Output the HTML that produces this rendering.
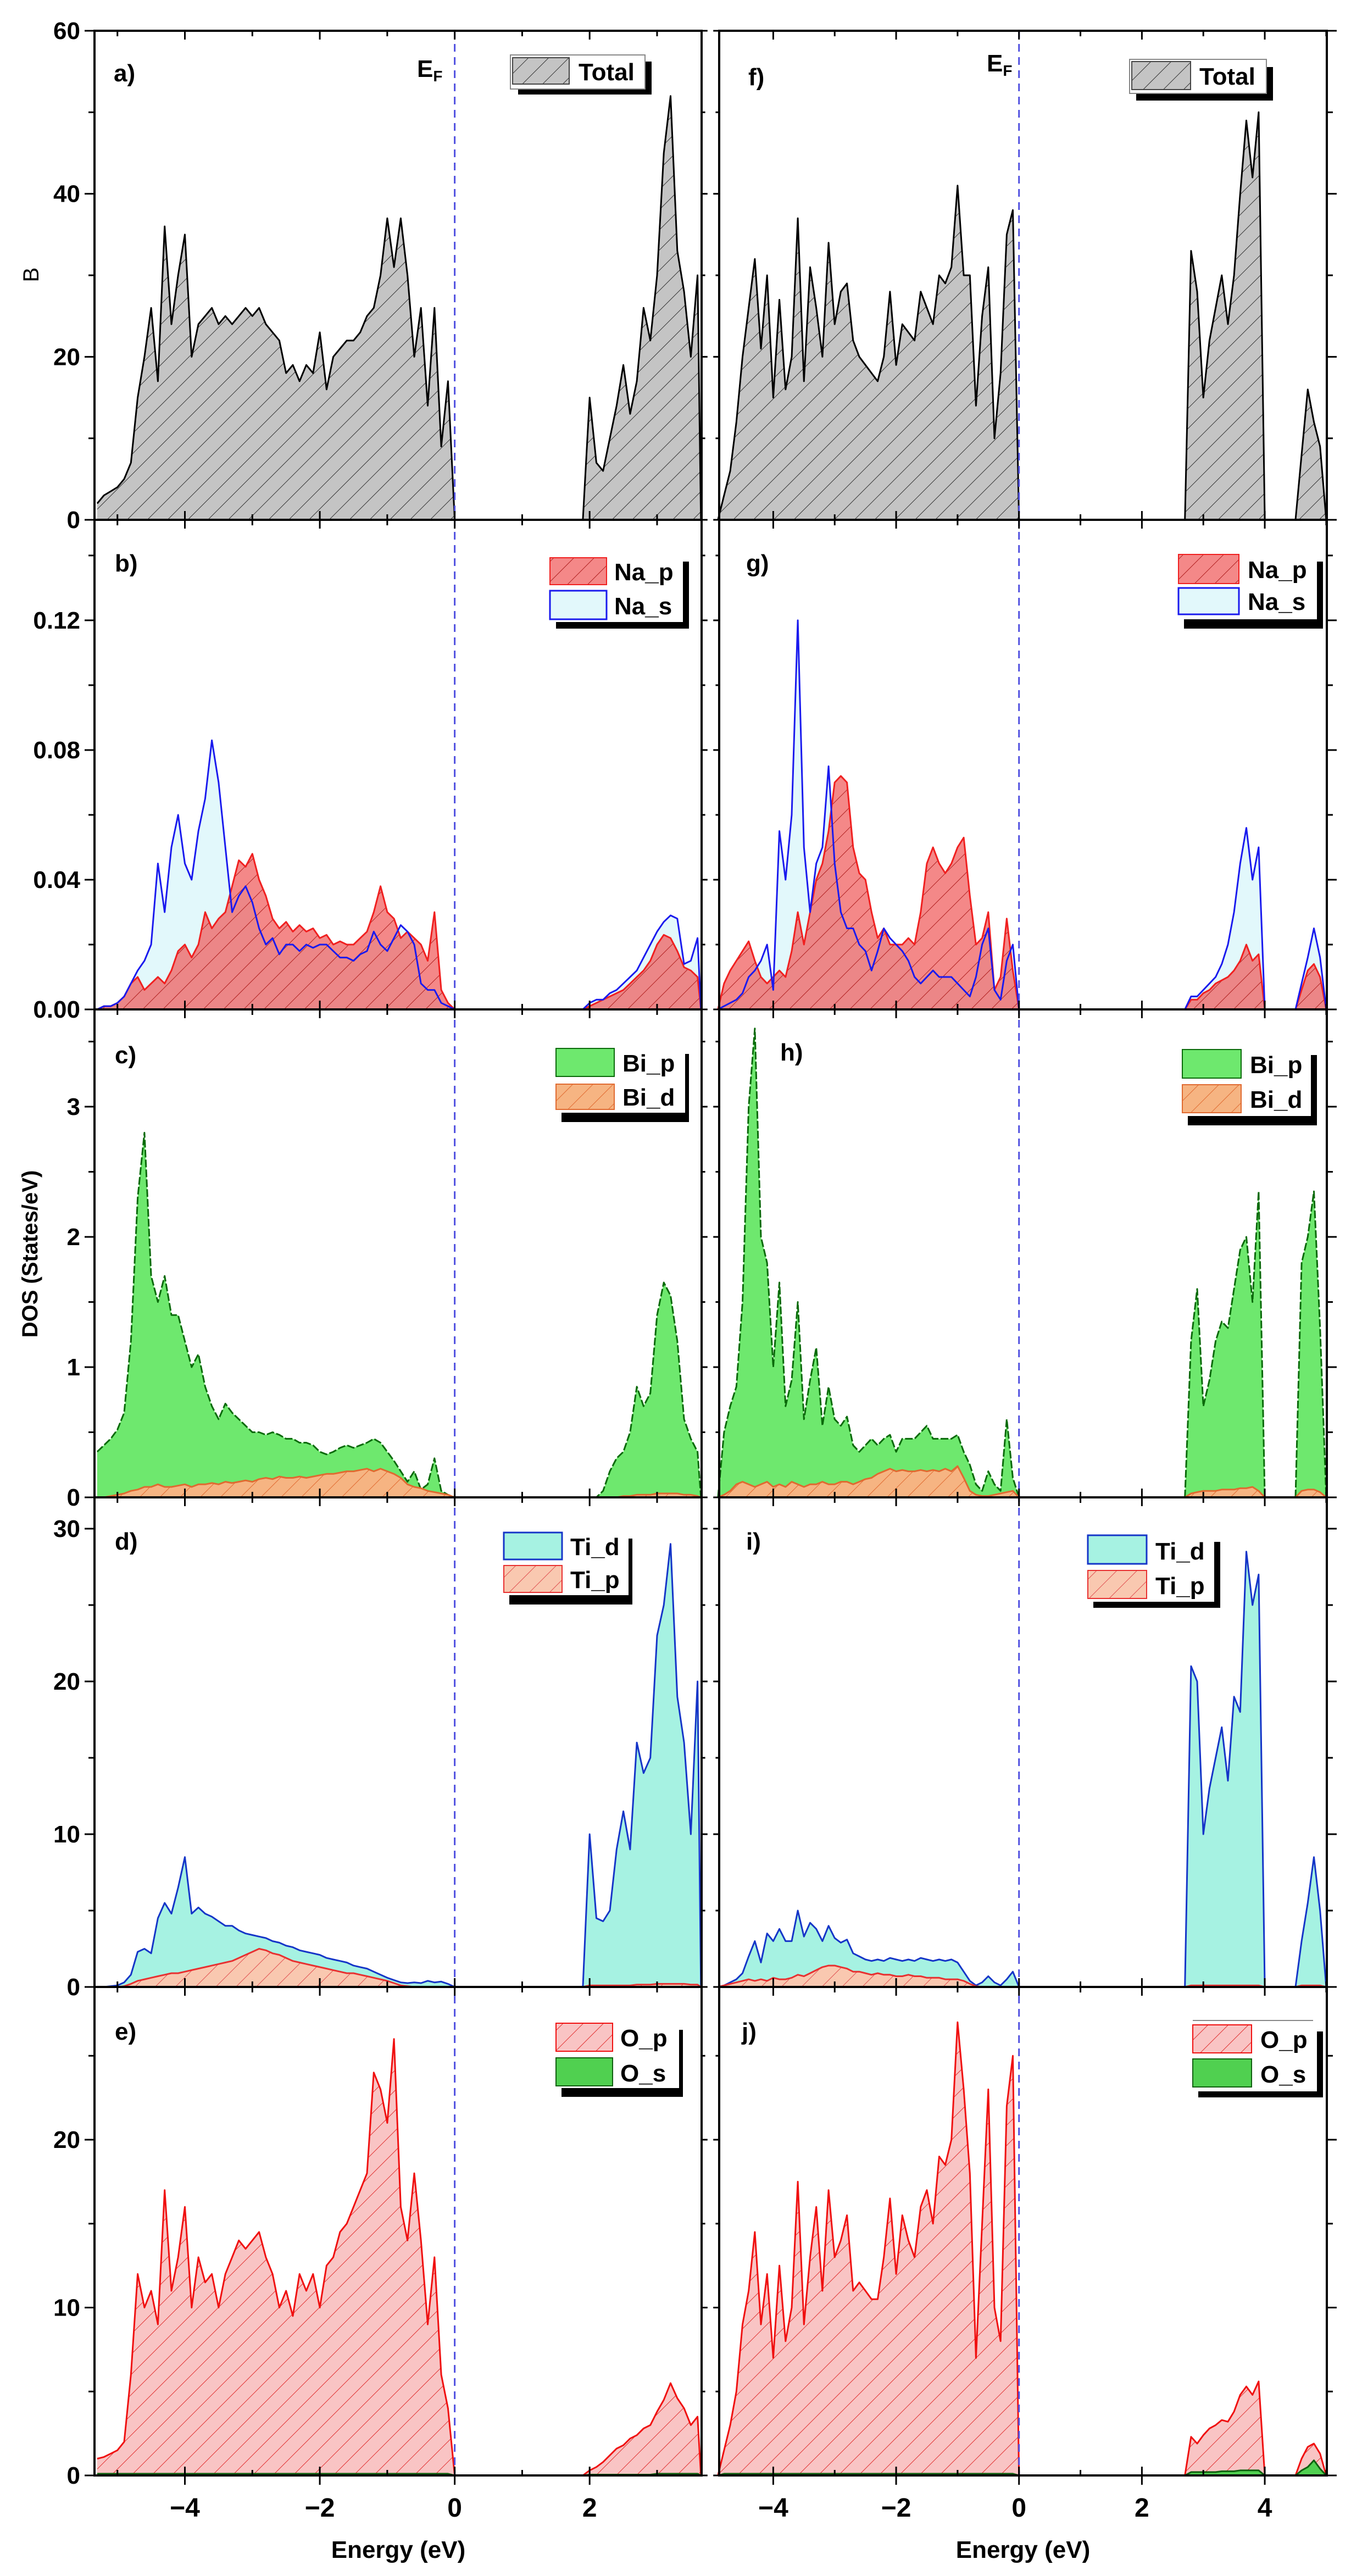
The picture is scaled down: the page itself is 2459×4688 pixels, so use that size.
<!DOCTYPE html>
<html><head><meta charset="utf-8"><title>DOS panels</title>
<style>
html,body{margin:0;padding:0;background:#fff;}
svg{display:block;font-family:"Liberation Sans",Arial,sans-serif;font-weight:bold;}
</style></head>
<body>
<svg id="chart" width="2459" height="4688" viewBox="0 0 2459 4688" xmlns="http://www.w3.org/2000/svg">
<defs>
<pattern id="hBlack" patternUnits="userSpaceOnUse" width="26" height="26" patternTransform="rotate(45)"><rect width="26" height="26" fill="#c4c4c4"/><line x1="0" y1="0" x2="0" y2="26" stroke="#333" stroke-width="2"/></pattern>
<pattern id="hRed" patternUnits="userSpaceOnUse" width="26" height="26" patternTransform="rotate(45)"><rect width="26" height="26" fill="rgba(240,90,90,0.72)"/><line x1="0" y1="0" x2="0" y2="26" stroke="#b02020" stroke-width="2"/></pattern>
<pattern id="hPink" patternUnits="userSpaceOnUse" width="26" height="26" patternTransform="rotate(45)"><rect width="26" height="26" fill="#f9c4c4"/><line x1="0" y1="0" x2="0" y2="26" stroke="#e03030" stroke-width="2"/></pattern>
<pattern id="hOrange" patternUnits="userSpaceOnUse" width="26" height="26" patternTransform="rotate(45)"><rect width="26" height="26" fill="#f6b482"/><line x1="0" y1="0" x2="0" y2="26" stroke="#e06a30" stroke-width="2"/></pattern>
<pattern id="hSalmon" patternUnits="userSpaceOnUse" width="26" height="26" patternTransform="rotate(45)"><rect width="26" height="26" fill="#f9c8b0"/><line x1="0" y1="0" x2="0" y2="26" stroke="#e05050" stroke-width="2"/></pattern>
</defs>
<g id="layer"></g>
</svg>
<script>
// ---- energy grids (eV) ----
const LV=[-5.3,-5.2,-5.1,-5.0,-4.9,-4.8,-4.7,-4.6,-4.5,-4.4,-4.3,-4.2,-4.1,-4.0,-3.9,-3.8,-3.7,-3.6,-3.5,-3.4,-3.3,-3.2,-3.1,-3.0,-2.9,-2.8,-2.7,-2.6,-2.5,-2.4,-2.3,-2.2,-2.1,-2.0,-1.9,-1.8,-1.7,-1.6,-1.5,-1.4,-1.3,-1.2,-1.1,-1.0,-0.9,-0.8,-0.7,-0.6,-0.5,-0.4,-0.3,-0.2,-0.1,0.0];
const LC=[1.9,2.0,2.1,2.2,2.3,2.4,2.5,2.6,2.7,2.8,2.9,3.0,3.1,3.2,3.3,3.4,3.5,3.6,3.65];
const RV=[-4.9,-4.8,-4.7,-4.6,-4.5,-4.4,-4.3,-4.2,-4.1,-4.0,-3.9,-3.8,-3.7,-3.6,-3.5,-3.4,-3.3,-3.2,-3.1,-3.0,-2.9,-2.8,-2.7,-2.6,-2.5,-2.4,-2.3,-2.2,-2.1,-2.0,-1.9,-1.8,-1.7,-1.6,-1.5,-1.4,-1.3,-1.2,-1.1,-1.0,-0.9,-0.8,-0.7,-0.6,-0.5,-0.4,-0.3,-0.2,-0.1,0.0];
const RC1=[2.7,2.8,2.9,3.0,3.1,3.2,3.3,3.4,3.5,3.6,3.7,3.8,3.9,4.0];
const RC2=[4.5,4.6,4.7,4.8,4.9,5.0];

// ---- a) Total (left) ----
const totalL_V=[2,3,3.5,4,5,7,15,20,26,17,36,24,30,35,20,24,25,26,24,25,24,25,26,25,26,24,23,22,18,19,17,19,18,23,16,20,21,22,22,23,25,26,30,37,31,37,30,20,26,14,26,9,17,0];
const totalL_C=[0,15,7,6,10,14,19,13,17,26,22,30,45,52,33,28,20,30,0];
// ---- f) Total (right) ----
const totalR_V=[0,3,6,12,20,26,32,21,30,15,27,16,20,37,17,31,26,20,34,24,28,29,22,20,19,18,17,20,28,19,24,23,22,28,26,24,30,29,31,41,30,30,14,25,31,10,18,35,38,0];
const totalR_C1=[0,33,28,15,22,26,30,24,30,40,49,42,50,0];
const totalR_C2=[0,8,16,12,9,0];

// ---- b) Na ----
const naSL_V=[0,0.001,0.001,0.002,0.004,0.008,0.012,0.015,0.02,0.045,0.03,0.05,0.06,0.045,0.04,0.055,0.065,0.083,0.07,0.05,0.03,0.035,0.038,0.033,0.025,0.02,0.022,0.017,0.02,0.02,0.018,0.02,0.019,0.02,0.02,0.018,0.016,0.016,0.015,0.017,0.018,0.024,0.02,0.018,0.022,0.026,0.024,0.02,0.008,0.006,0.006,0.002,0.001,0];
const naSL_C=[0,0.002,0.003,0.003,0.005,0.006,0.008,0.01,0.012,0.016,0.02,0.024,0.027,0.029,0.028,0.014,0.015,0.022,0];
const naPL_V=[0,0.001,0.001,0.002,0.004,0.008,0.01,0.006,0.008,0.01,0.008,0.012,0.018,0.02,0.016,0.02,0.03,0.025,0.028,0.03,0.038,0.046,0.044,0.048,0.04,0.035,0.028,0.025,0.027,0.024,0.026,0.024,0.025,0.022,0.023,0.02,0.021,0.02,0.02,0.022,0.024,0.03,0.038,0.03,0.028,0.022,0.024,0.022,0.02,0.015,0.03,0.006,0.002,0];
const naPL_C=[0,0.001,0.002,0.003,0.004,0.005,0.006,0.008,0.01,0.012,0.015,0.02,0.023,0.022,0.018,0.013,0.012,0.01,0];
// ---- g) Na ----
const naSR_V=[0,0.001,0.002,0.003,0.005,0.01,0.012,0.015,0.02,0.006,0.055,0.04,0.06,0.12,0.05,0.03,0.045,0.05,0.075,0.045,0.03,0.025,0.025,0.02,0.018,0.012,0.018,0.025,0.022,0.02,0.018,0.015,0.01,0.008,0.01,0.012,0.01,0.01,0.01,0.008,0.006,0.004,0.01,0.02,0.025,0.006,0.003,0.015,0.02,0];
const naSR_C1=[0,0.004,0.004,0.006,0.008,0.01,0.014,0.02,0.03,0.045,0.056,0.04,0.05,0];
const naSR_C2=[0,0.008,0.016,0.025,0.016,0];
const naPR_V=[0,0.008,0.012,0.015,0.018,0.021,0.015,0.01,0.008,0.01,0.012,0.01,0.018,0.03,0.02,0.03,0.04,0.045,0.055,0.07,0.072,0.07,0.05,0.042,0.04,0.03,0.022,0.025,0.02,0.02,0.02,0.022,0.02,0.03,0.045,0.05,0.045,0.042,0.045,0.05,0.053,0.035,0.02,0.022,0.03,0.006,0.01,0.028,0.012,0];
const naPR_C1=[0,0.003,0.003,0.005,0.006,0.008,0.009,0.01,0.012,0.015,0.02,0.015,0.017,0];
const naPR_C2=[0,0.006,0.012,0.014,0.01,0];

// ---- c) Bi ----
const biPL_V=[0.35,0.4,0.45,0.52,0.65,1.2,2.3,2.8,1.7,1.5,1.7,1.4,1.4,1.2,1.0,1.1,0.85,0.7,0.6,0.72,0.65,0.6,0.55,0.5,0.5,0.48,0.5,0.48,0.45,0.45,0.42,0.42,0.4,0.35,0.33,0.35,0.38,0.4,0.38,0.4,0.42,0.45,0.42,0.35,0.28,0.2,0.12,0.2,0.06,0.1,0.3,0.05,0.02,0];
const biPL_C=[0,0,0,0.05,0.2,0.3,0.35,0.5,0.85,0.7,0.8,1.4,1.65,1.55,1.2,0.6,0.45,0.35,0];
const biDL_V=[0,0,0.01,0.02,0.03,0.05,0.06,0.08,0.08,0.1,0.08,0.08,0.09,0.1,0.08,0.1,0.1,0.11,0.1,0.12,0.11,0.12,0.13,0.12,0.14,0.15,0.14,0.16,0.15,0.15,0.16,0.15,0.16,0.17,0.18,0.18,0.19,0.2,0.2,0.21,0.22,0.2,0.22,0.2,0.18,0.15,0.1,0.08,0.07,0.05,0.04,0.03,0.02,0];
const biDL_C=[0,0,0,0,0,0,0.01,0.01,0.02,0.02,0.02,0.03,0.03,0.03,0.03,0.02,0.02,0.01,0];
// ---- h) Bi ----
const biPR_V=[0,0.5,0.7,0.85,1.5,3.0,3.6,2.0,1.8,1.0,1.65,0.7,0.9,1.5,0.6,0.9,1.15,0.55,0.85,0.6,0.55,0.62,0.4,0.35,0.4,0.45,0.4,0.45,0.48,0.35,0.45,0.45,0.45,0.5,0.55,0.45,0.45,0.45,0.45,0.48,0.35,0.25,0.1,0.05,0.2,0.1,0.05,0.6,0.15,0];
const biPR_C1=[0,1.2,1.6,0.7,0.9,1.2,1.35,1.3,1.6,1.9,2.0,1.5,2.35,0];
const biPR_C2=[0,1.8,2.0,2.35,1.3,0];
const biDR_V=[0,0.02,0.05,0.1,0.12,0.1,0.08,0.1,0.12,0.08,0.1,0.08,0.12,0.1,0.08,0.1,0.1,0.12,0.1,0.1,0.12,0.12,0.1,0.12,0.14,0.15,0.18,0.2,0.22,0.2,0.21,0.2,0.2,0.21,0.2,0.21,0.2,0.22,0.2,0.24,0.15,0.05,0.02,0.01,0.01,0.02,0.03,0.04,0.05,0];
const biDR_C1=[0,0.03,0.04,0.05,0.05,0.05,0.06,0.06,0.06,0.07,0.07,0.08,0.05,0];
const biDR_C2=[0,0.05,0.06,0.06,0.04,0];

// ---- d) Ti ----
const tiDL_V=[0,0,0.05,0.1,0.3,0.8,2.3,2.5,2.2,4.5,5.5,4.8,6.5,8.5,4.8,5.2,4.8,4.6,4.3,4.0,4.0,3.7,3.5,3.4,3.3,3.2,3.0,2.9,2.7,2.6,2.4,2.3,2.2,2.1,1.9,1.8,1.7,1.6,1.4,1.3,1.2,1.0,0.8,0.6,0.45,0.3,0.25,0.3,0.25,0.4,0.3,0.35,0.2,0];
const tiDL_C=[0,10,4.5,4.3,5,9,11.5,9,16,14,15,23,25,29,19,16,10,20,0];
const tiPL_V=[0,0,0,0,0.05,0.2,0.4,0.5,0.6,0.7,0.8,0.9,0.9,1.0,1.1,1.2,1.3,1.4,1.5,1.6,1.7,1.9,2.1,2.3,2.5,2.4,2.2,2.1,1.9,1.7,1.6,1.5,1.4,1.3,1.2,1.1,1.0,0.9,0.9,0.8,0.7,0.6,0.5,0.4,0.25,0.1,0.05,0,0,0,0,0,0,0];
const tiPL_C=[0,0.1,0.1,0.1,0.1,0.1,0.1,0.1,0.15,0.15,0.15,0.2,0.2,0.2,0.2,0.2,0.15,0.15,0];
// ---- i) Ti ----
const tiDR_V=[0,0.1,0.3,0.5,0.9,2,3.0,1.6,3.5,3.0,3.8,3.0,3.0,5.0,3.3,4.2,3.8,3.0,4.0,3.2,2.9,3.1,2.2,2.0,1.8,1.7,1.8,1.7,1.9,1.8,1.7,1.8,1.7,1.9,1.8,1.7,1.8,1.7,1.8,1.6,1.0,0.4,0.1,0.3,0.7,0.3,0.1,0.5,1.0,0];
const tiDR_C1=[0,21,20,10,13,15,17,13.5,19,18,28.5,25,27,0];
const tiDR_C2=[0,3,5.5,8.5,5.0,0];
const tiPR_V=[0,0.1,0.2,0.3,0.4,0.5,0.4,0.5,0.4,0.6,0.5,0.5,0.6,0.8,0.7,0.9,1.1,1.3,1.4,1.4,1.3,1.2,1.0,1.0,0.9,0.8,0.9,0.8,0.8,0.7,0.7,0.8,0.7,0.7,0.6,0.6,0.6,0.5,0.5,0.5,0.4,0.2,0.05,0,0,0,0,0,0,0];
const tiPR_C1=[0,0.1,0.1,0.1,0.1,0.1,0.1,0.1,0.1,0.1,0.1,0.1,0.1,0];
const tiPR_C2=[0,0.1,0.1,0.1,0.1,0];

// ---- e) O ----
const oPL_V=[1.0,1.1,1.3,1.5,2.0,6,12,10,11,9,17,11,13,16,10,13,11.5,12,10,12,13,14,13.5,14,14.5,13,12,10,11,9.5,12,11,12,10,12.5,13,14.5,15,16,17,18,24,23,21,26,16,14,18,14,9,13,6,4,0];
const oPL_C=[0,0.3,0.5,0.8,1.2,1.6,1.8,2.2,2.4,2.8,3.0,3.8,4.5,5.5,4.6,4.0,3.0,3.5,0];
const oSL_V=[0.1,0.1,0.1,0.1,0.1,0.1,0.1,0.1,0.1,0.1,0.1,0.1,0.1,0.1,0.1,0.1,0.1,0.1,0.1,0.1,0.1,0.1,0.1,0.1,0.1,0.1,0.1,0.1,0.1,0.1,0.1,0.1,0.1,0.1,0.1,0.1,0.1,0.1,0.1,0.1,0.1,0.1,0.1,0.1,0.1,0.1,0.1,0.1,0.1,0.1,0.1,0.1,0.1,0];
const oSL_C=[0,0.05,0.05,0.05,0.05,0.05,0.05,0.05,0.05,0.05,0.05,0.1,0.1,0.1,0.1,0.1,0.1,0.1,0];
// ---- j) O ----
const oPR_V=[0,1.5,3,5,9,11,14.5,9,12,7,12.5,8,10,17.5,9,13,16,11,17,13,14,15.5,11,11.5,11,10.5,10.5,13,16.5,12,15.5,14,13,16,17,15,19,18.5,20,27,23,18,7,15,23,10,8,22,25,0];
const oPR_C1=[0,2.3,1.9,2.4,2.8,3.0,3.3,3.2,3.8,4.8,5.3,4.8,5.6,0];
const oPR_C2=[0,1.0,1.7,1.9,1.3,0];
const oSR_V=[0,0.1,0.1,0.1,0.1,0.1,0.1,0.1,0.1,0.1,0.1,0.1,0.1,0.1,0.1,0.1,0.1,0.1,0.1,0.1,0.1,0.1,0.1,0.1,0.1,0.1,0.1,0.1,0.1,0.1,0.1,0.1,0.1,0.1,0.1,0.1,0.1,0.1,0.1,0.1,0.1,0.1,0.1,0.1,0.1,0.1,0.1,0.1,0.1,0];
const oSR_C1=[0,0.2,0.2,0.2,0.2,0.2,0.25,0.25,0.25,0.3,0.3,0.3,0.3,0];
const oSR_C2=[0,0.3,0.5,0.9,0.4,0];

// ---- tick labels ----
const xTicksLeft=[-4,-2,0,2];
const xTicksRight=[-4,-2,0,2,4];
const yTicksA=[0,20,40,60];
const yTicksB=[0,0.04,0.08,0.12];
const yTicksC=[0,1,2,3];
const yTicksD=[0,10,20,30];
const yTicksE=[0,10,20];

// ---- geometry ----
const NS="http://www.w3.org/2000/svg";
const layer=document.getElementById('layer');
const sides={
  left:{x0:172,x1:1277,e0:-5.34,e1:3.66},
  right:{x0:1309,x1:2415,e0:-4.88,e1:5.01}
};
function xScale(side,e){const s=sides[side];return s.x0+(e-s.e0)/(s.e1-s.e0)*(s.x1-s.x0);}
const rows=[
  {top:56,bot:946,max:60},
  {top:946,bot:1837,max:0.151},
  {top:1837,bot:2725,max:3.747},
  {top:2725,bot:3616,max:32.05},
  {top:3616,bot:4505,max:29.1}
];
function yScale(r,v){const R=rows[r];return R.bot-v/R.max*(R.bot-R.top);}
function mk(tag,attrs,parent){const el=document.createElementNS(NS,tag);for(const k in attrs)el.setAttribute(k,attrs[k]);(parent||layer).appendChild(el);return el;}

function drawSeries(name,side,r,segs,fill,stroke,dash){
  const g=mk('g',{});
  
  
  for(const [E,V] of segs){
    let d='M'+xScale(side,E[0]).toFixed(1)+','+yScale(r,0).toFixed(1);
    let l='';
    for(let i=0;i<E.length;i++){
      const px=xScale(side,E[i]).toFixed(1),py=yScale(r,V[i]).toFixed(1);
      d+=' L'+px+','+py;
      l+=(i?' L':'M')+px+','+py;
    }
    d+=' L'+xScale(side,E[E.length-1]).toFixed(1)+','+yScale(r,0).toFixed(1)+' Z';
    const a=mk('path',{d:d,fill:fill,stroke:'none'},g);
    
    
    const ln=mk('path',{d:l,fill:'none',stroke:stroke,'stroke-width':3,'stroke-linejoin':'round'},g);
    if(dash)ln.setAttribute('stroke-dasharray',dash);
    
    
  }
}

drawSeries('total-dos-a','left',0,[[LV,totalL_V],[LC,totalL_C]],'url(#hBlack)','#000');
drawSeries('total-dos-f','right',0,[[RV,totalR_V],[RC1,totalR_C1],[RC2,totalR_C2]],'url(#hBlack)','#000');
drawSeries('na-s-b','left',1,[[LV,naSL_V],[LC,naSL_C]],'#e2f8fb','none');
drawSeries('na-p-b','left',1,[[LV,naPL_V],[LC,naPL_C]],'url(#hRed)','#f02020');
drawSeries('na-s-line-b','left',1,[[LV,naSL_V],[LC,naSL_C]],'none','#1a1aee');
drawSeries('na-s-g','right',1,[[RV,naSR_V],[RC1,naSR_C1],[RC2,naSR_C2]],'#e2f8fb','none');
drawSeries('na-p-g','right',1,[[RV,naPR_V],[RC1,naPR_C1],[RC2,naPR_C2]],'url(#hRed)','#f02020');
drawSeries('na-s-line-g','right',1,[[RV,naSR_V],[RC1,naSR_C1],[RC2,naSR_C2]],'none','#1a1aee');
drawSeries('bi-p-c','left',2,[[LV,biPL_V],[LC,biPL_C]],'#6ee86e','#0a6a0a','14,4');
drawSeries('bi-d-c','left',2,[[LV,biDL_V],[LC,biDL_C]],'url(#hOrange)','#e06a30');
drawSeries('bi-p-h','right',2,[[RV,biPR_V],[RC1,biPR_C1],[RC2,biPR_C2]],'#6ee86e','#0a6a0a','14,4');
drawSeries('bi-d-h','right',2,[[RV,biDR_V],[RC1,biDR_C1],[RC2,biDR_C2]],'url(#hOrange)','#e06a30');
drawSeries('ti-d-d','left',3,[[LV,tiDL_V],[LC,tiDL_C]],'#a6f2e2','#1535c8');
drawSeries('ti-p-d','left',3,[[LV,tiPL_V],[LC,tiPL_C]],'url(#hSalmon)','#e83030');
drawSeries('ti-d-i','right',3,[[RV,tiDR_V],[RC1,tiDR_C1],[RC2,tiDR_C2]],'#a6f2e2','#1535c8');
drawSeries('ti-p-i','right',3,[[RV,tiPR_V],[RC1,tiPR_C1],[RC2,tiPR_C2]],'url(#hSalmon)','#e83030');
drawSeries('o-p-e','left',4,[[LV,oPL_V],[LC,oPL_C]],'url(#hPink)','#f01010');
drawSeries('o-s-e','left',4,[[LV,oSL_V],[LC,oSL_C]],'#50d050','#106010');
drawSeries('o-p-j','right',4,[[RV,oPR_V],[RC1,oPR_C1],[RC2,oPR_C2]],'url(#hPink)','#f01010');
drawSeries('o-s-j','right',4,[[RV,oSR_V],[RC1,oSR_C1],[RC2,oSR_C2]],'#50d050','#106010');

for(const side of ['left','right']){
  const x=xScale(side,0);
  const f=mk('line',{x1:x,y1:56,x2:x,y2:4505,stroke:'#5050e0','stroke-width':3,'stroke-dasharray':'14,10'});
  
  
}

for(const side of ['left','right']){
  const s=sides[side];
  for(let r=0;r<rows.length;r++){
    const R=rows[r];
    const fr=mk('rect',{x:s.x0,y:R.top,width:s.x1-s.x0,height:R.bot-R.top,fill:'none',stroke:'#000','stroke-width':4});
    
    
    for(let e=Math.ceil(s.e0);e<=Math.floor(s.e1);e++){
      const x=xScale(side,e),len=(e%2===0)?16:10;
      mk('line',{x1:x,y1:R.top,x2:x,y2:R.top+len,stroke:'#000','stroke-width':3});
      mk('line',{x1:x,y1:R.bot,x2:x,y2:R.bot-len,stroke:'#000','stroke-width':3});
    }
  }
}
const yTickSets=[yTicksA,yTicksB,yTicksC,yTicksD,yTicksE];
for(let r=0;r<rows.length;r++){
  const ticks=yTickSets[r];
  const step=(ticks[1]-ticks[0])/2;
  for(let k=0;k*step<=rows[r].max+1e-9;k++){
    const v=k*step,y=yScale(r,v),len=(k%2===0)?18:11;
    mk('line',{x1:172-len,y1:y,x2:172,y2:y,stroke:'#000','stroke-width':3});
    mk('line',{x1:1277,y1:y,x2:1277+len*0.6,y2:y,stroke:'#000','stroke-width':3});
    mk('line',{x1:1309-len*0.6,y1:y,x2:1309,y2:y,stroke:'#000','stroke-width':3});
    mk('line',{x1:2415,y1:y,x2:2415+len,y2:y,stroke:'#000','stroke-width':3});
  }
  for(const v of ticks){
    const t=mk('text',{x:146,y:yScale(r,v)+15,'text-anchor':'end','font-size':44});
    t.textContent=(r===1)?v.toFixed(2):String(v);
    
    
  }
}
for(const [side,arr] of [['left',xTicksLeft],['right',xTicksRight]]){
  for(const v of arr){
    mk('line',{x1:xScale(side,v),y1:4505,x2:xScale(side,v),y2:4522,stroke:'#000','stroke-width':3});
    const t=mk('text',{x:xScale(side,v),y:4580,'text-anchor':'middle','font-size':48});
    t.textContent=v<0?'\u2212'+Math.abs(v):String(v);
    
    
  }
}
</script>
<svg style="position:absolute;left:0;top:0" width="2459" height="4688" xmlns="http://www.w3.org/2000/svg" font-family="Liberation Sans, Arial, sans-serif" font-weight="bold">
<text x="725" y="4655" text-anchor="middle" font-size="44">Energy (eV)</text>
<text x="1862" y="4655" text-anchor="middle" font-size="44">Energy (eV)</text>
<text transform="translate(70,500) rotate(-90)" text-anchor="middle" font-size="40" font-weight="normal">B</text>
<text transform="translate(68,2282) rotate(-90)" text-anchor="middle" font-size="40">DOS (States/eV)</text>

<g font-size="44">
<text x="207" y="148">a)</text>
<text x="209" y="1040">b)</text>
<text x="209" y="1935">c)</text>
<text x="209" y="2820">d)</text>
<text x="209" y="3712">e)</text>
<text x="1362" y="155">f)</text>
<text x="1358" y="1040">g)</text>
<text x="1420" y="1930">h)</text>
<text x="1358" y="2820">i)</text>
<text x="1350" y="3712">j)</text>
</g>
<text x="759" y="140" font-size="44">E<tspan font-size="28" dy="8">F</tspan></text>
<text x="1796" y="130" font-size="44">E<tspan font-size="28" dy="8">F</tspan></text>

<g>
<rect x="943" y="112" width="243" height="60" fill="#000"/>
<rect x="929" y="100" width="245" height="62" fill="#fff" stroke="#888" stroke-width="2"/>
<rect x="933" y="105" width="103" height="48" fill="url(#hBlack)" stroke="#444" stroke-width="2"/>
<text x="1053" y="146" font-size="44">Total</text>
</g>
<g>
<rect x="2068" y="122" width="249" height="61" fill="#000"/>
<rect x="2056" y="108" width="249" height="62" fill="#fff" stroke="#888" stroke-width="2"/>
<rect x="2060" y="112" width="107" height="51" fill="url(#hBlack)" stroke="#444" stroke-width="2"/>
<text x="2183" y="154" font-size="44">Total</text>
</g>
<g>
<rect x="1012" y="1022" width="242" height="122" fill="#000"/>
<rect x="997" y="1010" width="246" height="122" fill="#fff"/>
<rect x="1001" y="1015" width="103" height="49" fill="url(#hRed)" stroke="#f02020" stroke-width="2"/>
<rect x="1001" y="1075" width="103" height="52" fill="#e2f8fb" stroke="#1a1aee" stroke-width="3"/>
<text x="1118" y="1056" font-size="44">Na_p</text>
<text x="1118" y="1118" font-size="44">Na_s</text>
</g>
<g>
<rect x="2155" y="1022" width="253" height="122" fill="#000"/>
<rect x="2141" y="1005" width="256" height="122" fill="#fff"/>
<rect x="2145" y="1009" width="110" height="53" fill="url(#hRed)" stroke="#f02020" stroke-width="2"/>
<rect x="2145" y="1070" width="110" height="48" fill="#e2f8fb" stroke="#1a1aee" stroke-width="3"/>
<text x="2271" y="1052" font-size="44">Na_p</text>
<text x="2271" y="1110" font-size="44">Na_s</text>
</g>
<g>
<rect x="1022" y="1918" width="232" height="124" fill="#000"/>
<rect x="1008" y="1904" width="239" height="121" fill="#fff"/>
<rect x="1012" y="1908" width="106" height="51" fill="#6ee86e" stroke="#0a6a0a" stroke-width="2"/>
<rect x="1012" y="1973" width="106" height="46" fill="url(#hOrange)" stroke="#e06a30" stroke-width="2"/>
<text x="1133" y="1950" font-size="44">Bi_p</text>
<text x="1133" y="2012" font-size="44">Bi_d</text>
</g>
<g>
<rect x="2162" y="1920" width="235" height="128" fill="#000"/>
<rect x="2148" y="1906" width="238" height="125" fill="#fff"/>
<rect x="2152" y="1910" width="107" height="52" fill="#6ee86e" stroke="#0a6a0a" stroke-width="2"/>
<rect x="2152" y="1974" width="107" height="51" fill="url(#hOrange)" stroke="#e06a30" stroke-width="2"/>
<text x="2275" y="1953" font-size="44">Bi_p</text>
<text x="2275" y="2016" font-size="44">Bi_d</text>
</g>
<g>
<rect x="927" y="2800" width="224" height="120" fill="#000"/>
<rect x="913" y="2785" width="231" height="118" fill="#fff"/>
<rect x="917" y="2789" width="106" height="49" fill="#a6f2e2" stroke="#1535c8" stroke-width="3"/>
<rect x="917" y="2849" width="106" height="49" fill="url(#hSalmon)" stroke="#e83030" stroke-width="2"/>
<text x="1038" y="2830" font-size="44">Ti_d</text>
<text x="1038" y="2890" font-size="44">Ti_p</text>
</g>
<g>
<rect x="1990" y="2806" width="231" height="120" fill="#000"/>
<rect x="1976" y="2790" width="234" height="125" fill="#fff"/>
<rect x="1980" y="2794" width="107" height="52" fill="#a6f2e2" stroke="#1535c8" stroke-width="3"/>
<rect x="1980" y="2858" width="107" height="51" fill="url(#hSalmon)" stroke="#e83030" stroke-width="2"/>
<text x="2103" y="2838" font-size="44">Ti_d</text>
<text x="2103" y="2901" font-size="44">Ti_p</text>
</g>
<g>
<rect x="1022" y="3694" width="221" height="122" fill="#000"/>
<rect x="1008" y="3678" width="228" height="122" fill="#fff"/>
<rect x="1012" y="3682" width="103" height="51" fill="url(#hPink)" stroke="#f01010" stroke-width="2"/>
<rect x="1012" y="3745" width="103" height="51" fill="#50d050" stroke="#106010" stroke-width="2"/>
<text x="1129" y="3724" font-size="44">O_p</text>
<text x="1129" y="3788" font-size="44">O_s</text>
</g>
<g>
<rect x="2181" y="3697" width="227" height="120" fill="#000"/>
<rect x="2167" y="3678" width="230" height="128" fill="#fff"/>
<line x1="2171" y1="3677" x2="2390" y2="3677" stroke="#888" stroke-width="2"/>
<rect x="2171" y="3685" width="107" height="51" fill="url(#hPink)" stroke="#f01010" stroke-width="2"/>
<rect x="2171" y="3747" width="107" height="51" fill="#50d050" stroke="#106010" stroke-width="2"/>
<text x="2294" y="3727" font-size="44">O_p</text>
<text x="2294" y="3790" font-size="44">O_s</text>
</g>
</svg>
</body></html>
